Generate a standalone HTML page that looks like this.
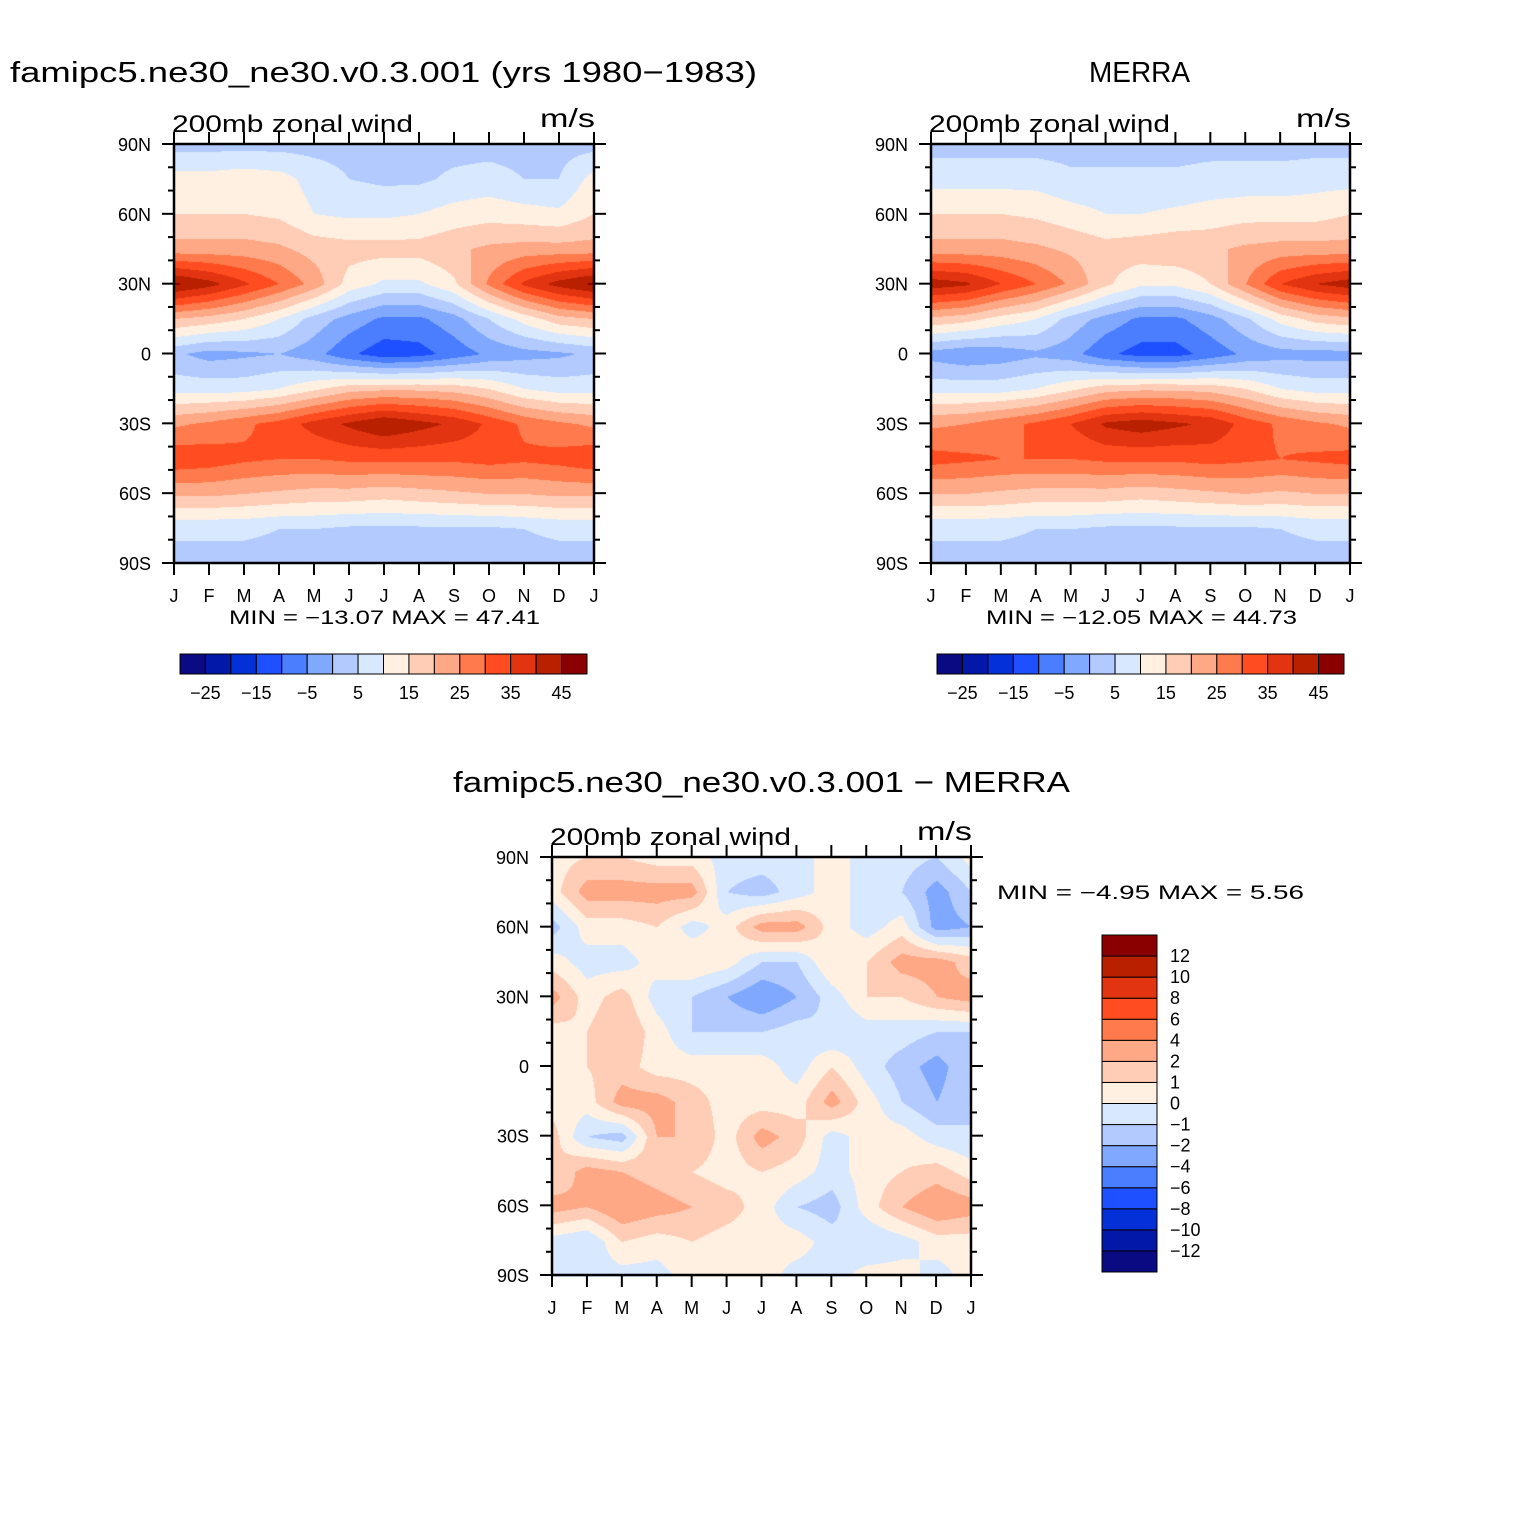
<!DOCTYPE html>
<html><head><meta charset="utf-8"><style>
body{margin:0;background:#fff;width:1524px;height:1524px;overflow:hidden;position:relative;font-family:"Liberation Sans",sans-serif}
canvas{position:absolute}
svg{position:absolute;left:0;top:0}
</style></head><body>
<canvas id="c1" width="420" height="420" style="left:174px;top:144px"></canvas>
<canvas id="c2" width="420" height="420" style="left:931px;top:144px"></canvas>
<canvas id="c3" width="420" height="420" style="left:552px;top:857px"></canvas>
<svg id="s" width="1524" height="1524"></svg>
<script>
const months=["J","F","M","A","M","J","J","A","S","O","N","D","J"];
const lats=[90,75,60,45,30,15,0,-15,-30,-45,-60,-75,-90];
const latTicks=["90N","60N","30N","0","30S","60S","90S"];
const absLevels=[-25,-20,-15,-10,-5,0,5,10,15,20,25,30,35,40,45];
const absLabels=["-25","-15","-5","5","15","25","35","45"];
const diffLevels=[-12,-10,-8,-6,-4,-2,-1,0,1,2,4,6,8,10,12];
const diffLabels=["12","10","8","6","4","2","1","0","-1","-2","-4","-6","-8","-10","-12"];
const colors=["#0a0a82","#0218a8","#0430d8","#1e50ff","#4a7dff","#80a8ff","#b2caff","#d8e8ff","#fff0e2","#ffcdb6","#ffa886","#ff7a4c","#ff4c20","#e23410","#b82000","#8a0000"];
const modelU=[
[3,3,3,3,3,3,3,3,3,3,3,3,3],
[12,12,13,12,8,5,4,4,6,7,5,5,12],
[15,15,15,14,10,9,9,10,12,13,12,11,15],
[22,22,22,21,18,17,17,17,19,21,22,22,22],
[46,42,36,30,23,13,9,9,14,26,36,42,46],
[20,18,15,10,3,-2,-6,-6,-2,5,12,18,20],
[1,-2,-1,0,-3,-9,-13,-12,-8,-4,-2,-1,1],
[8,8,8,10,14,18,19,19,18,15,10,8,8],
[24,26,29,32,37,41,45,42,39,34,29,26,24],
[34,33,31,30,30,31,31,31,31,32,31,32,34],
[21,21,20,19,18,18,17,18,19,20,20,21,21],
[6,6,6,5,5,4,4,4,4,4,5,6,6],
[3,3,3,3,3,3,3,3,3,3,3,3,3]];
const merraU=[
[3,3,3,3,3,3,3,3,3,3,3,3,3],
[8,8,8,8,6,6,6,6,7,7,7,8,8],
[15,15,15,14,12,10,10,11,12,13,13,13,15],
[22,22,22,21,19,17,18,19,19,21,22,22,22],
[43,41,35,30,24,16,11,11,15,25,35,40,43],
[19,17,13,10,3,-2,-6,-6,-2,4,12,17,19],
[-2,-4,-3,-1,-3,-9,-12,-12,-8,-4,-2,-2,-2],
[8,8,8,10,14,18,19,19,18,15,10,8,8],
[24,25,28,31,35,41,43,41,39,33,29,26,24],
[32,31,30,30,30,31,31,31,32,31,30,31,32],
[20,20,19,18,18,18,17,18,19,20,19,20,20],
[6,6,6,5,5,4,4,4,4,4,5,6,6],
[3,3,3,3,3,3,3,3,3,3,3,3,3]];
const diffU=[
[0.5,1,1,0.5,0.5,-0.5,-0.5,-0.5,0.5,-0.5,-0.5,-1,0.5],
[0.5,2.5,2.5,2.5,2.5,-1,-1.5,-0.5,0.5,-0.5,-1,-2.5,-1],
[-1.5,0.5,0.5,1,-0.5,0.5,2.5,2.5,0.5,-0.5,0.5,-2.5,-2],
[0.5,-0.5,-0.5,0.5,1,0.5,-1,-1,1,1,2.5,2.5,1.5],
[2.5,0.5,1.5,-0.5,-1,-2,-3,-2,-0.5,1,1,2,2.5],
[0.5,1,2,0.5,-1,-1,-1,-0.5,-1,-0.5,-0.5,-1,-1],
[0.5,1,1.5,0.5,0.5,0.5,0.5,-0.5,1,-0.5,-1.5,-2.5,-1],
[0.5,0.5,2.5,2.5,1.5,0.5,0.5,0.5,2.5,0.5,-1,-2,-1],
[1.5,-1,-1.5,2,2,0.5,2.5,1.5,-0.5,0.5,0.5,-0.5,-1],
[1,2.5,2,1.5,1,0.5,1,0.5,-0.5,0.5,1,1.5,0.5],
[2.5,2,3,2.5,2,1.5,0.5,-1,-1.5,0.5,2,3,2.5],
[-0.5,-1,1,0.5,1,0.5,0.5,0.5,-0.5,-1,-0.5,0.5,0.5],
[-0.5,-0.5,-0.5,-0.5,0.5,0.5,0.5,-0.5,-0.5,0.5,0.5,-0.5,0.5]];

function hex(c){return[parseInt(c.substr(1,2),16),parseInt(c.substr(3,2),16),parseInt(c.substr(5,2),16)];}
const rgb=colors.map(hex);
function levelIdx(v,levels){let i=0;while(i<levels.length&&v>=levels[i])i++;return i;}
function drawField(id,grid,levels){
  const cv=document.getElementById(id),ctx=cv.getContext('2d');
  const W=cv.width,H=cv.height,img=ctx.createImageData(W,H);
  const nx=months.length-1,ny=lats.length-1;
  for(let py=0;py<H;py++){
    const fy=(py+0.5)/H*ny,j=Math.min(Math.floor(fy),ny-1),ty=fy-j;
    for(let px=0;px<W;px++){
      const fx=(px+0.5)/W*nx,i=Math.min(Math.floor(fx),nx-1),tx=fx-i;
      const v=(grid[j][i]*(1-tx)+grid[j][i+1]*tx)*(1-ty)+(grid[j+1][i]*(1-tx)+grid[j+1][i+1]*tx)*ty;
      const c=rgb[levelIdx(v,levels)],k=(py*W+px)*4;
      img.data[k]=c[0];img.data[k+1]=c[1];img.data[k+2]=c[2];img.data[k+3]=255;
    }
  }
  ctx.putImageData(img,0,0);
}
drawField('c1',modelU,absLevels);
drawField('c2',merraU,absLevels);
drawField('c3',diffU,diffLevels);

const S=document.getElementById('s'),NS="http://www.w3.org/2000/svg";
function el(tag,attrs,parent){const e=document.createElementNS(NS,tag);for(const k in attrs)e.setAttribute(k,attrs[k]);(parent||S).appendChild(e);return e;}
function txt(x,y,s,size,anchor,parent,len){const a={x:x,y:y,'font-size':size,'text-anchor':anchor||'start','font-family':'Liberation Sans, sans-serif',fill:'#000'};if(len){a.textLength=len;a.lengthAdjust='spacingAndGlyphs';}const t=el('text',a,parent);t.textContent=s;return t;}

function axes(x0,y0,w,h,name){
  const g=el('g',{});
  
  
  const xS=i=>x0+i*w/(months.length-1);
  const yS=lat=>y0+(90-lat)/180*h;
  el('rect',{x:x0,y:y0,width:w,height:h,fill:'none',stroke:'#000','stroke-width':2.5},g);
  months.forEach((m,i)=>{
    const x=xS(i);
    el('line',{x1:x,y1:y0,x2:x,y2:y0-12,stroke:'#000','stroke-width':2},g);
    el('line',{x1:x,y1:y0+h,x2:x,y2:y0+h+12,stroke:'#000','stroke-width':2},g);
    const t=txt(x,y0+h+39,m,18,'middle',g);
    
    
  });
  for(let lat=90;lat>=-90;lat-=10){
    const y=yS(lat),major=lat%30===0,L=major?12:6;
    el('line',{x1:x0,y1:y,x2:x0-L,y2:y,stroke:'#000','stroke-width':2},g);
    el('line',{x1:x0+w,y1:y,x2:x0+w+L,y2:y,stroke:'#000','stroke-width':2},g);
  }
  latTicks.forEach((l,i)=>{
    const t=txt(x0-23,yS(90-i*30)+7,l,18,'end',g);
    
    
  });
  const st=txt(x0-2,y0-12,'200mb zonal wind',24,'start',g,241);
  
  
  const un=txt(x0+w+1,y0-17,'m/s',26,'end',g,55);
  
  
}
axes(174,144,420,419,'model-axes');
axes(931,144,419,419,'merra-axes');
axes(552,857,419,418,'difference-axes');

function hbar(x0,y0,w,h,name,mm){
  const g=el('g',{});
  
  
  const bw=w/colors.length;
  colors.forEach((c,i)=>{const r=el('rect',{x:x0+i*bw,y:y0,width:bw,height:h,fill:c,stroke:'#000','stroke-width':1},g);
    });
  absLabels.forEach((l,i)=>{txt(x0+bw*(1+2*i),y0+h+25,l.replace('-','\u2212'),18,'middle',g);});
  const m=txt(x0+49,y0-30,mm,19,'start',g,311);
  
}
hbar(180,654,407,20,'model-colorbar','MIN = \u221213.07 MAX =  47.41');
hbar(937,654,407,20,'merra-colorbar','MIN = \u221212.05 MAX =  44.73');

(function(){
  const g=el('g',{});
  
  
  const x0=1102,y0=935,w=55,h=337,bh=h/colors.length;
  colors.forEach((c,i)=>{const r=el('rect',{x:x0,y:y0+(colors.length-1-i)*bh,width:w,height:bh,fill:c,stroke:'#000','stroke-width':1},g);
    });
  diffLabels.forEach((l,i)=>{txt(x0+w+13,y0+bh*(i+1)+6,l.replace('-','\u2212'),18,'start',g);});
})();

const t1=txt(10,82,'famipc5.ne30_ne30.v0.3.001 (yrs 1980\u22121983)',29,'start',null,747);

const t2=txt(1089,82,'MERRA',29,'start',null,101);

const t3=txt(453,792,'famipc5.ne30_ne30.v0.3.001 \u2212 MERRA',29,'start',null,617);

const t4=txt(997,899,'MIN =   \u22124.95 MAX =    5.56',19,'start',null,307);

</script>
</body></html>
